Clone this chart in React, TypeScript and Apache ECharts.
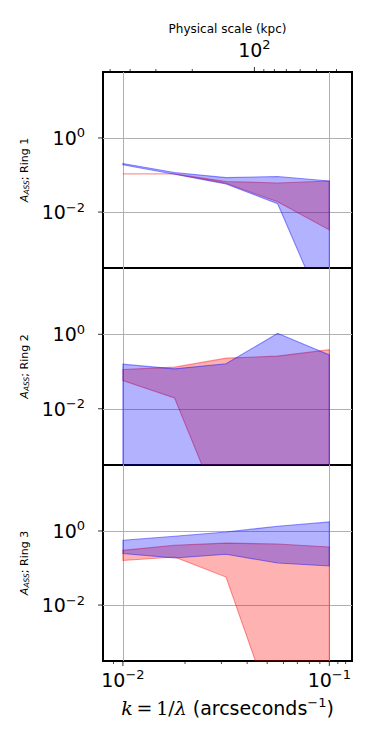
import React, { useEffect, useRef } from 'react';
import * as echarts from 'echarts';

// spatial frequency k (arcsec^-1) of the band points
const kValues = [0.01, 0.0178, 0.0316, 0.0562, 0.1];

// Ring 1
const ring1RedUpper = [0.107, 0.107, 0.0665, 0.061, 0.069];
const ring1RedLower = [0.107, 0.107, 0.06, 0.019, 0.0033];
const ring1BlueUpper = [0.205, 0.117, 0.085, 0.091, 0.069];
const ring1BlueLower = [0.19, 0.105, 0.057, 0.0168, 0.00001];

// Ring 2
const ring2RedUpper = [0.113, 0.131, 0.229, 0.26, 0.385];
const ring2RedLower = [0.057, 0.0195, 0.000008, 0.000001, 0.000001];
const ring2BlueUpper = [0.158, 0.118, 0.161, 1.06, 0.28];
const ring2BlueLower = [0.00001, 0.00001, 0.00001, 0.00001, 0.00001];

// Ring 3
const ring3RedUpper = [0.3, 0.41, 0.47, 0.445, 0.37];
const ring3RedLower = [0.16, 0.198, 0.057, 0.000006, 0.000001];
const ring3BlueUpper = [0.56, 0.72, 0.94, 1.34, 1.75];
const ring3BlueLower = [0.245, 0.186, 0.235, 0.136, 0.113];

const ringNames = ['Ring 1', 'Ring 2', 'Ring 3'];
const kRange = [0.00801, 0.1288];
const yRange = [0.000309, 60.3];
const kpcPerArcsec = 4.335;

const xMajorTicks = [0.01, 0.1];
const xMinorTicks = [0.009, 0.02, 0.03, 0.04, 0.05, 0.06, 0.07, 0.08, 0.09, 0.11, 0.12];
const yMajorTicks = [1, 0.01];
const kpcMajorTicks = [100];
const kpcMinorTicks = [500, 400, 300, 200, 90, 80, 70, 60, 50, 40];

const RED = '255,0,0';
const BLUE = '0,0,255';

const ringBands = [
  [
    { upper: ring1RedUpper, lower: ring1RedLower, rgb: RED },
    { upper: ring1BlueUpper, lower: ring1BlueLower, rgb: BLUE },
  ],
  [
    { upper: ring2RedUpper, lower: ring2RedLower, rgb: RED },
    { upper: ring2BlueUpper, lower: ring2BlueLower, rgb: BLUE },
  ],
  [
    { upper: ring3RedUpper, lower: ring3RedLower, rgb: RED },
    { upper: ring3BlueUpper, lower: ring3BlueLower, rgb: BLUE },
  ],
];

const FONT = 'DejaVu Sans';
const supRich = {
  b: { fontSize: 19, color: '#000', fontFamily: FONT },
  s: { fontSize: 13, color: '#000', fontFamily: FONT, padding: [0, 0, 10, 0] },
};

const near = (v: number, p: number) => Math.abs(Math.log10(v) - p) < 1e-6;

function bandSeries(idx: number, upper: number[], lower: number[], rgb: string) {
  return {
    type: 'custom',
    xAxisIndex: idx,
    yAxisIndex: idx,
    clip: true,
    silent: true,
    data: [[kValues[0], upper[0]]],
    renderItem: (_params: any, api: any) => {
      const pts: number[][] = [];
      for (let i = 0; i < kValues.length; i++) pts.push(api.coord([kValues[i], upper[i]]));
      for (let i = kValues.length - 1; i >= 0; i--) pts.push(api.coord([kValues[i], lower[i]]));
      return {
        type: 'polygon',
        shape: { points: pts },
        style: { fill: `rgba(${rgb},0.3)`, stroke: `rgba(${rgb},0.42)`, lineWidth: 1.1 },
      };
    },
  };
}

function tickSeries(xIdx: number, yIdx: number, data: number[][], size: number[], offset: number[]) {
  return {
    type: 'scatter',
    xAxisIndex: xIdx,
    yAxisIndex: yIdx,
    data,
    symbol: 'rect',
    symbolSize: size,
    symbolOffset: offset,
    itemStyle: { color: '#000' },
    clip: false,
    silent: true,
    z: 5,
  };
}

const gridTops = [72, 268, 465];
const gridHeights = [196, 197, 196];

export default function App() {
  const ref = useRef<HTMLDivElement>(null);
  useEffect(() => {
    if (!ref.current) return;
    const chart = echarts.init(ref.current, undefined, { renderer: 'svg' });

    const grids = gridTops.map((t, i) => ({
      left: 103,
      width: 249,
      top: t,
      height: gridHeights[i],
      show: true,
      borderColor: '#000',
      borderWidth: 2,
      backgroundColor: 'transparent',
    }));

    const xAxes: any[] = [0, 1, 2].map((i) => ({
      type: 'log',
      gridIndex: i,
      position: 'bottom',
      min: kRange[0],
      max: kRange[1],
      axisLine: { show: false },
      axisTick: { show: false },
      splitLine: { show: true, showMinLine: false, showMaxLine: false, lineStyle: { color: '#b0b0b0', width: 1 } },
      axisLabel:
        i === 2
          ? {
              show: true,
              margin: 7,
              showMinLabel: false,
              showMaxLabel: false,
              formatter: (v: number) => (near(v, -2) ? '{b|10}{s|−2}' : near(v, -1) ? '{b|10}{s|−1}' : ''),
              rich: supRich,
            }
          : { show: false },
      name: i === 2 ? '{i|k}{m|\u2009=\u20091/}{i|λ}{t| (arcseconds}{s|−1}{t|)}' : '',
      nameLocation: 'middle',
      nameGap: 35,
      nameTextStyle: {
        rich: {
          i: { fontFamily: 'DejaVu Serif', fontStyle: 'italic', fontSize: 19, color: '#000' },
          m: { fontFamily: 'DejaVu Serif', fontSize: 19, color: '#000' },
          t: { fontFamily: FONT, fontSize: 19, color: '#000' },
          s: { fontFamily: FONT, fontSize: 13, color: '#000', padding: [0, 0, 10, 0] },
        },
      },
    }));
    xAxes.push({
      type: 'log',
      gridIndex: 0,
      position: 'top',
      inverse: true,
      min: kpcPerArcsec / kRange[1],
      max: kpcPerArcsec / kRange[0],
      axisLine: { show: false },
      axisTick: { show: false },
      splitLine: { show: false },
      axisLabel: {
        show: true,
        margin: 11,
        showMinLabel: false,
        showMaxLabel: false,
        formatter: (v: number) => (near(v, 2) ? '{b|10}{s|2}' : ''),
        rich: supRich,
      },
      name: 'Physical scale (kpc)',
      nameLocation: 'middle',
      nameGap: 37,
      nameTextStyle: { fontFamily: FONT, fontSize: 12, color: '#000' },
    });

    const yAxes = [0, 1, 2].map((i) => ({
      type: 'log',
      logBase: 100,
      gridIndex: i,
      min: yRange[0],
      max: yRange[1],
      axisLine: { show: false },
      axisTick: { show: false },
      splitLine: { show: true, showMinLine: false, showMaxLine: false, lineStyle: { color: '#b0b0b0', width: 1 } },
      axisLabel: {
        show: true,
        margin: 18,
        showMinLabel: false,
        showMaxLabel: false,
        formatter: (v: number) => (near(v, 0) ? '{b|10}{s|0}' : near(v, -2) ? '{b|10}{s|−2}' : ''),
        rich: supRich,
      },
      name: `{a|A}{s|ASS}{t|; ${ringNames[i]}}`,
      nameLocation: 'middle',
      nameRotate: 90,
      nameGap: 63,
      nameTextStyle: {
        rich: {
          a: { fontFamily: FONT, fontStyle: 'italic', fontSize: 11, color: '#000' },
          s: { fontFamily: FONT, fontStyle: 'italic', fontSize: 7.5, color: '#000', padding: [4, 0, 0, 0] },
          t: { fontFamily: FONT, fontSize: 11, color: '#000' },
        },
      },
    }));

    const series: any[] = [];
    ringBands.forEach((bands, i) => {
      bands.forEach((b) => series.push(bandSeries(i, b.upper, b.lower, b.rgb)));
      series.push(tickSeries(i, i, yMajorTicks.map((y) => [kRange[0], y]), [5, 1], [-2.5, 0]));
    });
    series.push(tickSeries(2, 2, xMajorTicks.map((x) => [x, yRange[0]]), [1, 5], [0, 2.5]));
    series.push(tickSeries(2, 2, xMinorTicks.map((x) => [x, yRange[0]]), [0.9, 3], [0, 1.5]));
    series.push(tickSeries(3, 0, kpcMajorTicks.map((x) => [x, yRange[1]]), [1, 5], [0, -2.5]));
    series.push(tickSeries(3, 0, kpcMinorTicks.map((x) => [x, yRange[1]]), [0.9, 3], [0, -1.5]));

    chart.setOption({
      animation: false,
      backgroundColor: '#fff',
      textStyle: { fontFamily: FONT },
      grid: grids,
      xAxis: xAxes,
      yAxis: yAxes,
      series,
    });
    return () => chart.dispose();
  }, []);

  return (
    <div
      ref={ref}
      style={{ position: 'fixed', left: 0, top: 0, width: 374, height: 747, background: '#fff' }}
    />
  );
}
